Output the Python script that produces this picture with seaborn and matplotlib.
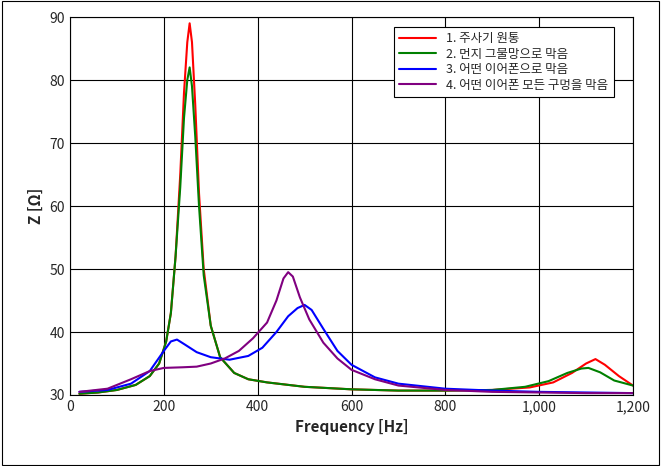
import matplotlib
matplotlib.use("Agg")
import matplotlib.pyplot as plt
import seaborn as sns
import pandas as pd
from matplotlib.ticker import FuncFormatter

sns.set_style("white")
plt.rcParams['font.family'] = ['Noto Sans CJK KR', 'DejaVu Sans']

labels = ["1. 주사기 원통", "2. 먼지 그물망으로 막음", "3. 어떤 이어폰으로 막음", "4. 어떤 이어폰 모든 구멍을 막음"]
colors = ["#ff0000", "#008000", "#0000ff", "#800080"]

x1 = [20, 60, 100, 140, 170, 190, 205, 215, 225, 235, 243, 250, 255, 260, 267, 275, 285, 300, 320, 350, 380, 420, 500, 600, 700, 800, 900, 980, 1030, 1070, 1100, 1120, 1140, 1170, 1200]
y1 = [30.2, 30.4, 30.8, 31.6, 33.0, 35.0, 38.5, 43.0, 52.0, 65.0, 78.0, 86.0, 89.0, 86.0, 76.0, 62.0, 50.0, 41.0, 36.0, 33.5, 32.5, 32.0, 31.3, 30.9, 30.7, 30.7, 30.8, 31.2, 32.0, 33.5, 35.0, 35.7, 34.8, 33.0, 31.5]
x2 = [20, 60, 100, 140, 170, 190, 205, 215, 225, 235, 243, 250, 255, 260, 267, 275, 285, 300, 320, 350, 380, 420, 500, 600, 700, 800, 900, 970, 1020, 1060, 1090, 1105, 1130, 1160, 1200]
y2 = [30.2, 30.4, 30.8, 31.6, 33.0, 35.0, 38.5, 43.0, 52.0, 63.0, 74.0, 80.0, 82.0, 79.0, 71.0, 60.0, 49.0, 41.0, 36.0, 33.5, 32.5, 32.0, 31.3, 30.9, 30.7, 30.7, 30.8, 31.3, 32.2, 33.5, 34.2, 34.3, 33.6, 32.3, 31.5]
x3 = [20, 80, 130, 170, 200, 215, 228, 245, 270, 300, 340, 380, 410, 440, 465, 485, 500, 515, 540, 570, 600, 650, 700, 800, 900, 1000, 1100, 1200]
y3 = [30.5, 30.8, 31.8, 33.8, 37.0, 38.5, 38.8, 38.0, 36.8, 36.0, 35.6, 36.2, 37.5, 40.0, 42.5, 43.8, 44.3, 43.5, 40.5, 37.0, 34.8, 32.8, 31.8, 31.0, 30.7, 30.5, 30.4, 30.3]
x4 = [20, 80, 130, 170, 200, 240, 270, 300, 330, 360, 390, 420, 440, 455, 465, 475, 490, 510, 540, 570, 600, 650, 700, 800, 900, 1000, 1100, 1200]
y4 = [30.5, 31.0, 32.5, 33.8, 34.3, 34.4, 34.5, 35.0, 35.8, 37.0, 39.0, 41.5, 45.0, 48.5, 49.5, 48.8, 45.5, 42.0, 38.3, 35.8, 34.0, 32.5, 31.5, 30.8, 30.5, 30.4, 30.3, 30.3]

frames = []
for lab, xs, ys in zip(labels, [x1, x2, x3, x4], [y1, y2, y3, y4]):
    frames.append(pd.DataFrame({"Frequency": xs, "Z": ys, "series": lab}))
df = pd.concat(frames)

fig = plt.figure(figsize=(6.61, 4.66), dpi=100)
fig.patches.append(plt.Rectangle((0.003, 0.003), 0.994, 0.994, transform=fig.transFigure,
                                 fill=False, edgecolor="black", linewidth=0.8))
ax = fig.add_axes([70/661, 1-395/466, 563/661, 378/466])
ax.set_axisbelow(True)
sns.lineplot(data=df, x="Frequency", y="Z", hue="series", palette=colors, ax=ax,
             linewidth=1.5, sort=False, estimator=None)
ax.set_xlim(0, 1200)
ax.set_ylim(30, 90)
ax.set_xticks(range(0, 1201, 200))
ax.set_yticks(range(30, 91, 10))
ax.xaxis.set_major_formatter(FuncFormatter(lambda v, p: f"{int(v):,}"))
ax.grid(True, color="black", linewidth=0.8)
for s in ax.spines.values():
    s.set_color("black"); s.set_linewidth(0.8)
ax.tick_params(labelsize=10, direction="in", length=4)
ax.set_xlabel("Frequency [Hz]", fontsize=11, fontweight="bold")
ax.set_ylabel("Z [Ω]", fontsize=11, fontweight="bold")
leg = ax.legend(loc="upper right", bbox_to_anchor=(0.97, 0.98), fontsize=9, frameon=True,
                fancybox=False, edgecolor="black", handlelength=3, borderaxespad=0.2,
                labelspacing=0.2, framealpha=1)
leg.get_frame().set_linewidth(0.8)
fig.savefig("out.png", dpi=100)
